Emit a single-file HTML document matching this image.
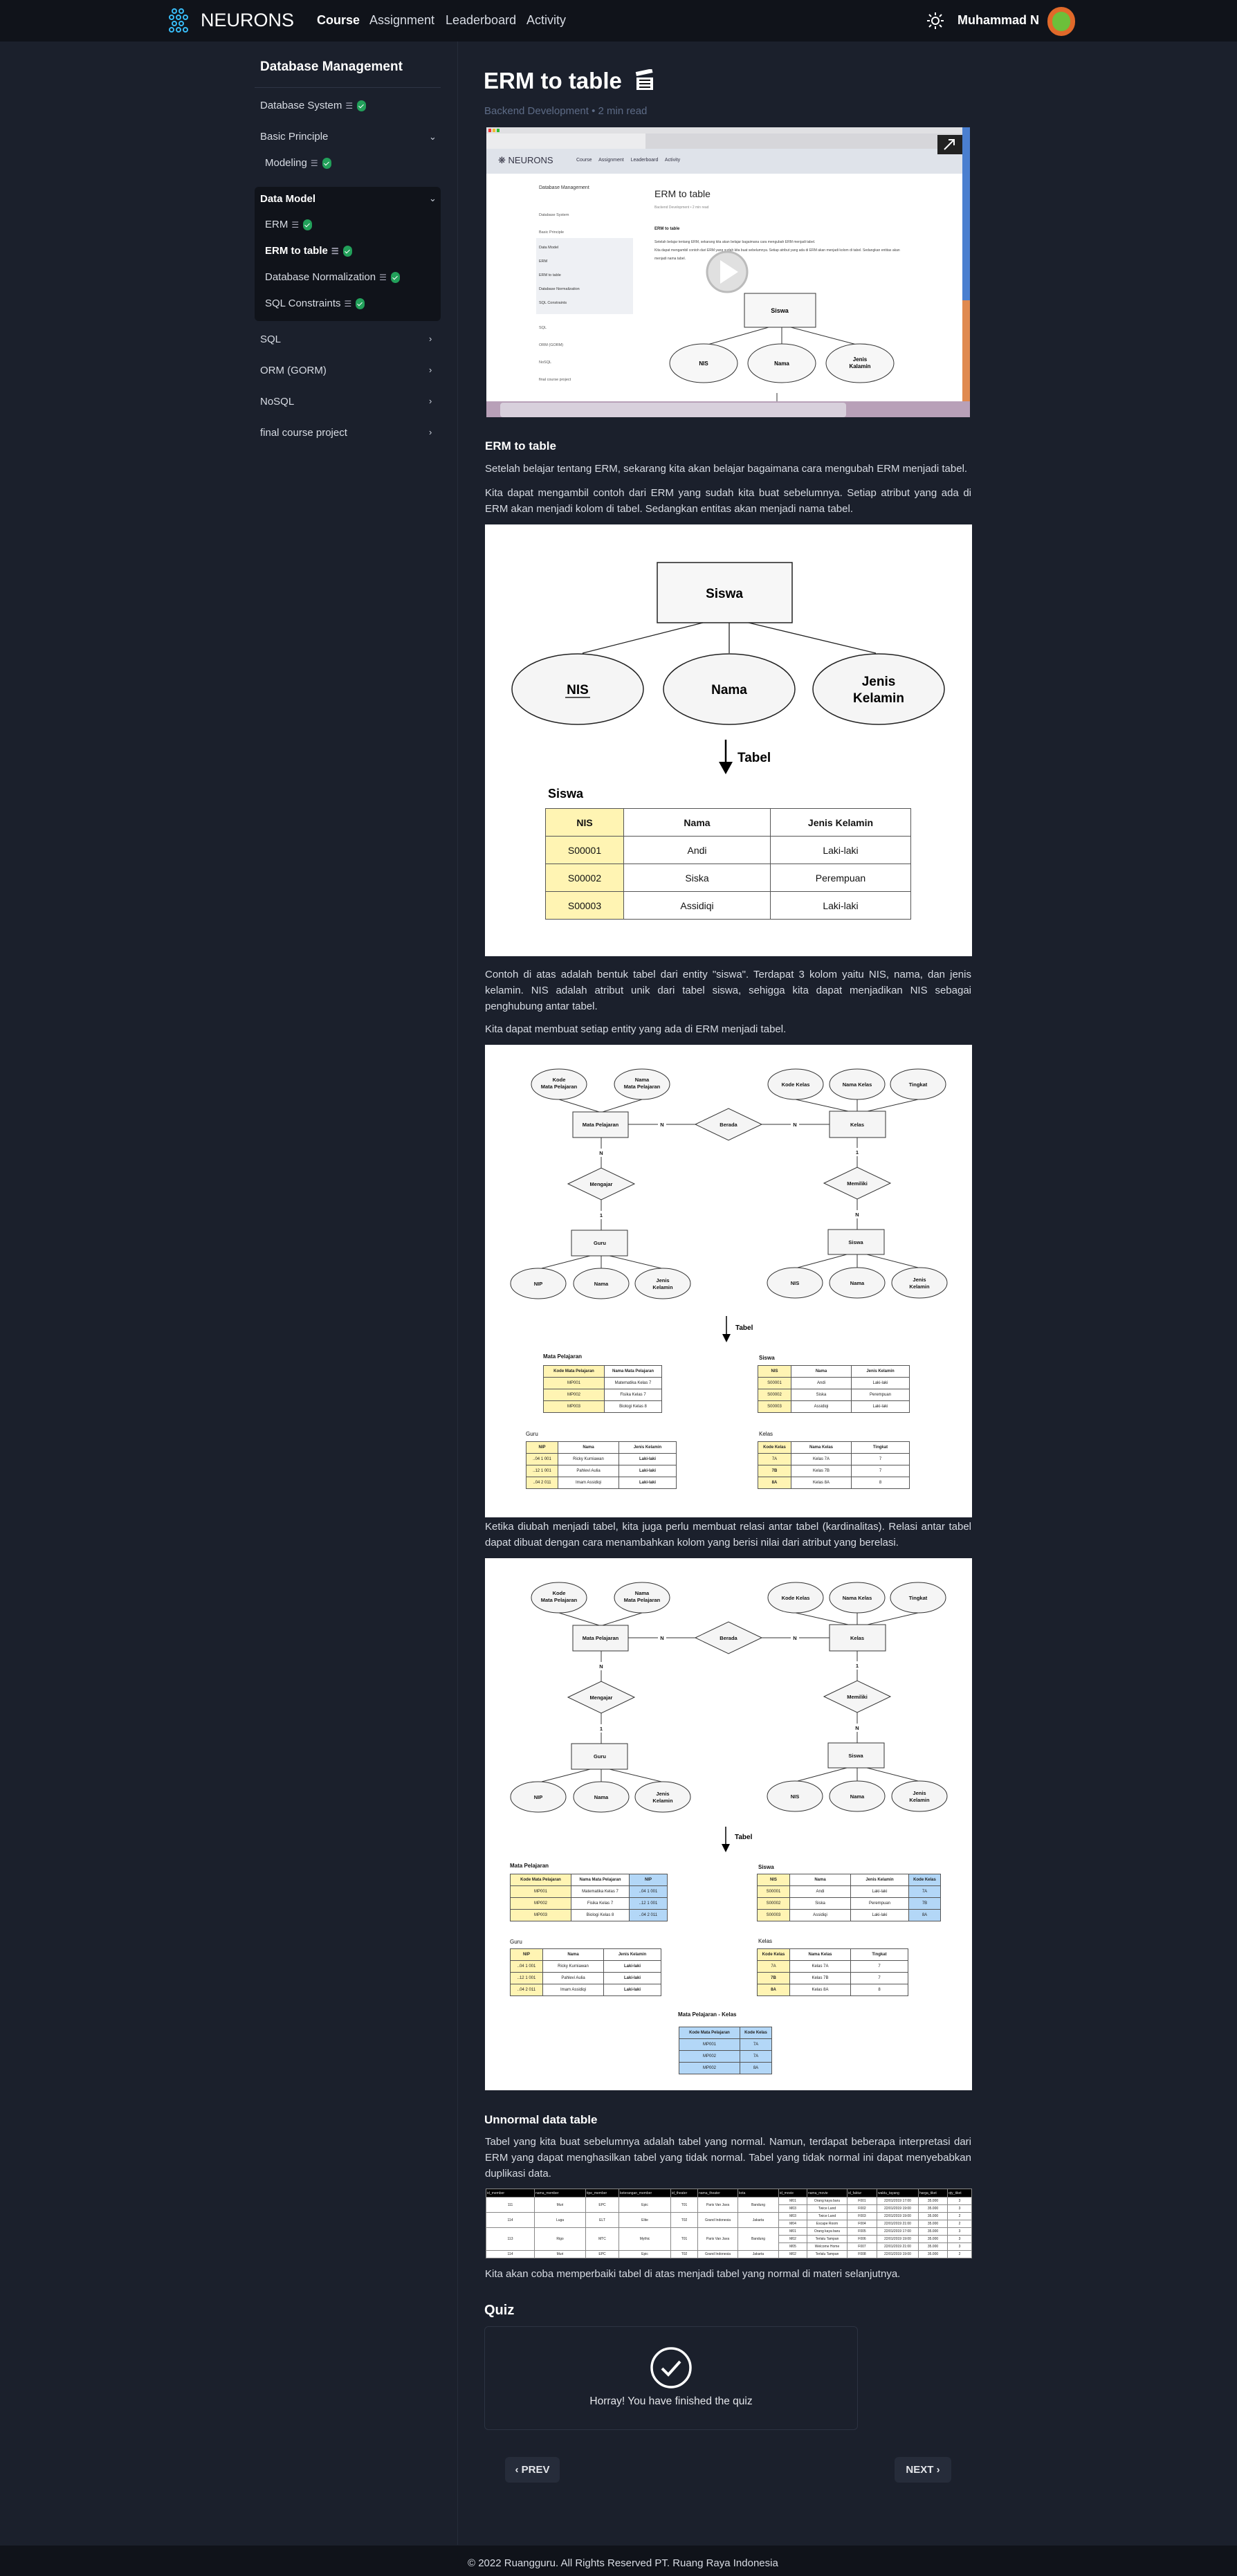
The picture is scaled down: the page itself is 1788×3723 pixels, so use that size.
<!DOCTYPE html>
<html><head><meta charset="utf-8">
<style>
*{margin:0;padding:0;box-sizing:border-box}
body{width:1788px;height:3723px;overflow:hidden;background:#1b202c;font-family:"Liberation Sans",sans-serif;color:#d8dce4;position:relative}
.a{position:absolute}
.nav{left:0;top:0;width:1788px;height:60px;background:#10131a}
.side{font-size:15px;color:#d8dce4}
.chev{position:absolute;left:620px;font-size:13px;color:#cbd1dc}
.ck{display:inline-block;width:13px;height:16px;border-radius:7px;background:#22a05a;vertical-align:middle;margin-left:6px;position:relative}
.ck:after{content:"";position:absolute;left:4px;top:4px;width:3px;height:6px;border:solid #fff;border-width:0 1.5px 1.5px 0;transform:rotate(45deg)}
.ic{display:inline-block;font-size:12px;color:#aab;margin-left:5px;vertical-align:middle}
.p{left:701px;width:703px;font-size:15px;line-height:23px;color:#d8dce4;text-align:justify}
.box{background:#fff;left:701px;width:704px}
.t{position:absolute;border-collapse:collapse;font-size:6px;color:#222;text-align:center;background:#fff}
.t td{border:1px solid #555;height:17px;padding:0}
.t tr:first-child td{font-weight:bold}
.y{background:#fff4b3}.b{background:#b3d7f7}
.tt{position:absolute;font-size:8px;font-weight:bold;color:#111}
.u{position:absolute;border-collapse:collapse;font-size:5px;color:#222;background:#fff;table-layout:fixed}
.u td{border:1px solid #888;padding:0 1px;height:11px;text-align:center;white-space:nowrap;overflow:hidden}
.u tr.h td{background:#000;color:#ddd;height:12px;text-align:left}
</style></head><body>

<!-- NAV -->
<div class="a nav"></div>
<svg class="a" style="left:240px;top:10px" width="36" height="40" viewBox="0 0 36 40"><g fill="none" stroke="#38bdf8" stroke-width="2"><circle cx="12" cy="6" r="3"/><circle cx="22" cy="6" r="3"/><circle cx="8" cy="15" r="3"/><circle cx="18" cy="15" r="3"/><circle cx="28" cy="15" r="3"/><circle cx="12" cy="24" r="3"/><circle cx="22" cy="24" r="3"/><circle cx="8" cy="33" r="3"/><circle cx="18" cy="33" r="3"/><circle cx="28" cy="33" r="3"/></g></svg>
<div class="a" style="left:290px;top:14px;font-size:27px;color:#fff">NEURONS</div>
<div class="a" style="left:458px;top:19px;font-size:18px;color:#fff;font-weight:bold">Course</div>
<div class="a" style="left:534px;top:19px;font-size:18px;color:#d8dce4">Assignment</div>
<div class="a" style="left:644px;top:19px;font-size:18px;color:#d8dce4">Leaderboard</div>
<div class="a" style="left:761px;top:19px;font-size:18px;color:#d8dce4">Activity</div>
<svg class="a" style="left:1340px;top:18px" width="24" height="24" viewBox="0 0 24 24"><circle cx="12" cy="12" r="5" fill="none" stroke="#fff" stroke-width="2"/><g stroke="#fff" stroke-width="2"><line x1="12" y1="0" x2="12" y2="4"/><line x1="12" y1="20" x2="12" y2="24"/><line x1="0" y1="12" x2="4" y2="12"/><line x1="20" y1="12" x2="24" y2="12"/><line x1="3" y1="3" x2="6" y2="6"/><line x1="18" y1="18" x2="21" y2="21"/><line x1="3" y1="21" x2="6" y2="18"/><line x1="18" y1="6" x2="21" y2="3"/></g></svg>
<div class="a" style="left:1384px;top:19px;font-size:18px;color:#fff;font-weight:bold">Muhammad N</div>
<div class="a" style="left:1514px;top:10px;width:40px;height:42px;border-radius:20px;background:#e0692a"></div>
<div class="a" style="left:1521px;top:17px;width:26px;height:28px;border-radius:13px;background:#6cbf3a"></div>

<!-- SIDEBAR -->
<div class="a" style="left:661px;top:60px;width:1px;height:3618px;background:#262c3a"></div>
<div class="a" style="left:376px;top:86px;font-size:19px;font-weight:bold;color:#fff">Database Management</div>
<div class="a" style="left:368px;top:126px;width:269px;height:1px;background:#2e3545"></div>
<div class="a side" style="left:376px;top:144px">Database System<span class="ic">☰</span><span class="ck"></span></div>
<div class="a side" style="left:376px;top:189px">Basic Principle</div><div class="chev" style="top:190px">⌄</div>
<div class="a side" style="left:383px;top:227px">Modeling<span class="ic">☰</span><span class="ck"></span></div>
<div class="a" style="left:368px;top:270px;width:269px;height:194px;background:#10131a;border-radius:6px"></div>
<div class="a side" style="left:376px;top:279px;font-weight:bold;color:#fff">Data Model</div><div class="chev" style="top:279px">⌄</div>
<div class="a side" style="left:383px;top:316px">ERM<span class="ic">☰</span><span class="ck"></span></div>
<div class="a side" style="left:383px;top:354px;font-weight:bold;color:#fff">ERM to table<span class="ic">☰</span><span class="ck"></span></div>
<div class="a side" style="left:383px;top:392px">Database Normalization<span class="ic">☰</span><span class="ck"></span></div>
<div class="a side" style="left:383px;top:430px">SQL Constraints<span class="ic">☰</span><span class="ck"></span></div>
<div class="a side" style="left:376px;top:482px">SQL</div><div class="chev" style="top:482px">›</div>
<div class="a side" style="left:376px;top:527px">ORM (GORM)</div><div class="chev" style="top:527px">›</div>
<div class="a side" style="left:376px;top:572px">NoSQL</div><div class="chev" style="top:572px">›</div>
<div class="a side" style="left:376px;top:617px">final course project</div><div class="chev" style="top:617px">›</div>

<!-- CONTENT -->
<div class="a" style="left:699px;top:98px;font-size:33px;font-weight:bold;color:#fff">ERM to table</div>
<svg class="a" style="left:918px;top:100px" width="28" height="32" viewBox="0 0 28 32"><rect x="2" y="12" width="24" height="18" fill="#fff"/><rect x="2" y="4" width="24" height="6" fill="#fff" transform="rotate(-12 2 10)"/><g stroke="#111" stroke-width="2"><line x1="6" y1="16" x2="22" y2="16"/><line x1="6" y1="21" x2="22" y2="21"/><line x1="6" y1="26" x2="22" y2="26"/></g></svg>
<div class="a" style="left:700px;top:152px;font-size:15px;color:#5d6b86">Backend Development &#8226; 2 min read</div>

<!-- video screenshot -->
<div class="a" style="left:703px;top:184px;width:699px;height:419px;background:#e9e9ec;overflow:hidden">
 <div class="a" style="left:0;top:0;width:699px;height:9px;background:#e0e0e3"></div>
 <div class="a" style="left:3px;top:2px;width:4px;height:5px;background:#e33"></div><div class="a" style="left:9px;top:2px;width:4px;height:5px;background:#eb3"></div><div class="a" style="left:15px;top:2px;width:4px;height:5px;background:#3b3"></div>
 <div class="a" style="left:0;top:9px;width:699px;height:22px;background:#d6d6da"></div>
 <div class="a" style="left:0;top:9px;width:230px;height:22px;background:#ececee"></div>
 <div class="a" style="left:0;top:31px;width:688px;height:36px;background:#dfe3ea"></div>
 <div class="a" style="left:17px;top:40px;font-size:13px;color:#334">❋ NEURONS</div>
 <div class="a" style="left:130px;top:44px;font-size:7px;color:#334;word-spacing:8px">Course Assignment Leaderboard Activity</div>
 <div class="a" style="left:0;top:67px;width:688px;height:329px;background:#fff"></div>
 <div class="a" style="left:76px;top:84px;font-size:7px;color:#333">Database Management</div>
 <div class="a" style="left:76px;top:115px;font-size:5.5px;color:#555;line-height:25px">Database System<br>Basic Principle</div>
 <div class="a" style="left:72px;top:160px;width:140px;height:110px;background:#eef0f4"></div>
 <div class="a" style="left:76px;top:164px;font-size:5.5px;color:#333;line-height:20px">Data Model<br>ERM<br>ERM to table<br>Database Normalization<br>SQL Constraints</div>
 <div class="a" style="left:76px;top:278px;font-size:5.5px;color:#555;line-height:25px">SQL<br>ORM (GORM)<br>NoSQL<br>final course project</div>
 <div class="a" style="left:243px;top:88px;font-size:14px;color:#222">ERM to table</div>
 <div class="a" style="left:243px;top:113px;font-size:5px;color:#888">Backend Development • 2 min read</div>
 <div class="a" style="left:243px;top:144px;font-size:6px;color:#222;font-weight:bold">ERM to table</div>
 <div class="a" style="left:243px;top:160px;font-size:5px;color:#444;width:370px;line-height:12px">Setelah belajar tentang ERM, sekarang kita akan belajar bagaimana cara mengubah ERM menjadi tabel.<br>Kita dapat mengambil contoh dari ERM yang sudah kita buat sebelumnya. Setiap atribut yang ada di ERM akan menjadi kolom di tabel. Sedangkan entitas akan menjadi nama tabel.</div>
 <svg class="a" style="left:0;top:0" width="699" height="419">
  <circle cx="348" cy="209" r="29" fill="#ccc" fill-opacity=".6" stroke="#bbb" stroke-width="3"/><polygon points="338,192 338,226 364,209" fill="#fff"/>
  <rect x="373" y="240" width="103" height="49" fill="#f7f7f7" stroke="#333"/><text x="424" y="268" font-size="9" font-weight="bold" text-anchor="middle" font-family="Liberation Sans">Siswa</text>
  <g stroke="#333" fill="none"><line x1="408" y1="289" x2="320" y2="314"/><line x1="427" y1="289" x2="427" y2="313"/><line x1="440" y1="289" x2="535" y2="314"/></g>
  <g fill="#f7f7f7" stroke="#333"><ellipse cx="314" cy="341" rx="49" ry="28"/><ellipse cx="427" cy="341" rx="49" ry="28"/><ellipse cx="540" cy="341" rx="49" ry="28"/></g>
  <g font-family="Liberation Sans" font-size="8" font-weight="bold" text-anchor="middle"><text x="314" y="344">NIS</text><text x="427" y="344">Nama</text><text x="540" y="338">Jenis</text><text x="540" y="348">Kalamin</text></g>
  <line x1="420" y1="384" x2="420" y2="396" stroke="#333"/>
  <rect x="0" y="396" width="699" height="23" fill="#b8a0b8"/>
  <rect x="20" y="398" width="500" height="21" rx="4" fill="#d8d0dc"/>
  <rect x="688" y="0" width="11" height="396" fill="#4a7fd0"/><rect x="688" y="250" width="11" height="146" fill="#e08a50"/>
  <rect x="652" y="11" width="36" height="28" fill="#222"/><path d="M662 32 L676 18 M668 18 L676 18 L676 26" stroke="#fff" stroke-width="2" fill="none"/>
 </svg>
</div>

<div class="a" style="left:701px;top:635px;font-size:17px;font-weight:bold;color:#fff">ERM to table</div>
<div class="a p" style="top:666px">Setelah belajar tentang ERM, sekarang kita akan belajar bagaimana cara mengubah ERM menjadi tabel.</div>
<div class="a p" style="top:701px">Kita dapat mengambil contoh dari ERM yang sudah kita buat sebelumnya. Setiap atribut yang ada di ERM akan menjadi kolom di tabel. Sedangkan entitas akan menjadi nama tabel.</div>

<!-- Diagram 1 -->
<div class="a box" style="top:758px;height:624px">
 <svg class="a" style="left:0;top:0" width="704" height="624" font-family="Liberation Sans">
  <rect x="249" y="55" width="195" height="87" fill="#f7f7f7" stroke="#222" stroke-width="1.5"/>
  <text x="346" y="106" font-size="19" font-weight="bold" text-anchor="middle">Siswa</text>
  <g stroke="#222" stroke-width="1.3"><line x1="315" y1="142" x2="141" y2="186"/><line x1="353" y1="142" x2="353" y2="186"/><line x1="381" y1="142" x2="565" y2="186"/></g>
  <g fill="#f5f5f5" stroke="#222" stroke-width="1.5"><ellipse cx="134" cy="238" rx="95" ry="51"/><ellipse cx="353" cy="238" rx="95" ry="51"/><ellipse cx="569" cy="238" rx="95" ry="51"/></g>
  <g font-size="19" font-weight="bold" text-anchor="middle"><text x="134" y="245">NIS</text><text x="353" y="245">Nama</text><text x="569" y="233">Jenis</text><text x="569" y="257">Kelamin</text></g>
  <line x1="116" y1="250" x2="152" y2="250" stroke="#222" stroke-width="1.5"/>
  <line x1="348" y1="311" x2="348" y2="346" stroke="#000" stroke-width="2.5"/><polygon points="338,343 358,343 348,361"/>
  <text x="365" y="343" font-size="19" font-weight="bold">Tabel</text>
  <text x="91" y="395" font-size="18" font-weight="bold">Siswa</text>
 </svg>
 <table class="t" style="left:87px;top:410px;width:529px;font-size:14px;color:#111">
  <tr><td class="y" style="width:113px;height:40px">NIS</td><td style="width:212px">Nama</td><td>Jenis Kelamin</td></tr>
  <tr style="font-weight:normal"><td class="y" style="height:40px;font-weight:normal">S00001</td><td>Andi</td><td>Laki-laki</td></tr>
  <tr><td class="y" style="height:40px">S00002</td><td>Siska</td><td>Perempuan</td></tr>
  <tr><td class="y" style="height:40px">S00003</td><td>Assidiqi</td><td>Laki-laki</td></tr>
 </table>
</div>

<div class="a p" style="top:1397px">Contoh di atas adalah bentuk tabel dari entity "siswa". Terdapat 3 kolom yaitu NIS, nama, dan jenis kelamin. NIS adalah atribut unik dari tabel siswa, sehigga kita dapat menjadikan NIS sebagai penghubung antar tabel.</div>
<div class="a p" style="top:1476px">Kita dapat membuat setiap entity yang ada di ERM menjadi tabel.</div>

<!-- Diagram 2 -->
<div class="a box" style="top:1510px;height:683px">
 <svg class="a" style="left:0;top:0" width="704" height="450" font-family="Liberation Sans">
  <g stroke="#333" stroke-width="1">
   <line x1="107" y1="79" x2="165" y2="97"/><line x1="227" y1="79" x2="170" y2="97"/>
   <line x1="449" y1="79" x2="525" y2="96"/><line x1="538" y1="79" x2="538" y2="96"/><line x1="626" y1="79" x2="553" y2="96"/>
   <line x1="207" y1="115" x2="250" y2="115"/><line x1="262" y1="115" x2="304" y2="115"/><line x1="400" y1="115" x2="442" y2="115"/><line x1="454" y1="115" x2="498" y2="115"/>
   <line x1="168" y1="134" x2="168" y2="150"/><line x1="168" y1="162" x2="168" y2="178"/><line x1="168" y1="224" x2="168" y2="240"/><line x1="168" y1="252" x2="168" y2="268"/>
   <line x1="538" y1="134" x2="538" y2="149"/><line x1="538" y1="161" x2="538" y2="177"/><line x1="538" y1="223" x2="538" y2="239"/><line x1="538" y1="251" x2="538" y2="267"/>
   <line x1="152" y1="305" x2="82" y2="323"/><line x1="168" y1="305" x2="168" y2="323"/><line x1="180" y1="305" x2="255" y2="323"/>
   <line x1="523" y1="303" x2="452" y2="322"/><line x1="538" y1="303" x2="538" y2="322"/><line x1="552" y1="303" x2="626" y2="322"/>
  </g>
  <g fill="#f5f5f5" stroke="#333">
   <ellipse cx="107" cy="57" rx="40" ry="22"/><ellipse cx="227" cy="57" rx="40" ry="22"/><ellipse cx="449" cy="57" rx="40" ry="22"/><ellipse cx="538" cy="57" rx="40" ry="22"/><ellipse cx="626" cy="57" rx="40" ry="22"/>
   <ellipse cx="77" cy="345" rx="40" ry="22"/><ellipse cx="168" cy="345" rx="40" ry="22"/><ellipse cx="257" cy="345" rx="40" ry="22"/>
   <ellipse cx="448" cy="344" rx="40" ry="22"/><ellipse cx="538" cy="344" rx="40" ry="22"/><ellipse cx="628" cy="344" rx="40" ry="22"/>
   <rect x="127" y="97" width="80" height="37"/><rect x="498" y="96" width="81" height="38"/><rect x="125" y="268" width="81" height="37"/><rect x="496" y="267" width="81" height="36"/>
   <polygon points="304,115 352,92 400,115 352,138"/><polygon points="120,201 168,178 216,201 168,224"/><polygon points="490,200 538,177 586,200 538,223"/>
  </g>
  <g font-size="7.5" font-weight="bold" text-anchor="middle" fill="#111">
   <text x="107" y="53">Kode</text><text x="107" y="63">Mata Pelajaran</text><text x="227" y="53">Nama</text><text x="227" y="63">Mata Pelajaran</text>
   <text x="449" y="60">Kode Kelas</text><text x="538" y="60">Nama Kelas</text><text x="626" y="60">Tingkat</text>
   <text x="167" y="118">Mata Pelajaran</text><text x="538" y="118">Kelas</text><text x="352" y="118">Berada</text>
   <text x="168" y="204">Mengajar</text><text x="538" y="203">Memiliki</text><text x="166" y="289">Guru</text><text x="536" y="288">Siswa</text>
   <text x="256" y="118">N</text><text x="448" y="118">N</text><text x="168" y="159">N</text><text x="168" y="249">1</text><text x="538" y="158">1</text><text x="538" y="248">N</text>
   <text x="77" y="348">NIP</text><text x="168" y="348">Nama</text><text x="257" y="343">Jenis</text><text x="257" y="353">Kelamin</text>
   <text x="448" y="347">NIS</text><text x="538" y="347">Nama</text><text x="628" y="342">Jenis</text><text x="628" y="352">Kelamin</text>
  </g>
  <line x1="349" y1="392" x2="349" y2="420" stroke="#000" stroke-width="1.5"/><polygon points="343,418 355,418 349,430"/>
  <text x="362" y="412" font-size="10" font-weight="bold">Tabel</text>
 </svg>
 <div class="tt" style="left:84px;top:446px">Mata Pelajaran</div>
 <table class="t" style="left:84px;top:463px;width:172px"><tr><td class="y" style="width:88px">Kode Mata Pelajaran</td><td>Nama Mata Pelajaran</td></tr><tr><td class="y">MP001</td><td>Matematika Kelas 7</td></tr><tr><td class="y">MP002</td><td>Fisika Kelas 7</td></tr><tr><td class="y">MP003</td><td>Biologi Kelas 8</td></tr></table>
 <div class="tt" style="left:396px;top:448px">Siswa</div>
 <table class="t" style="left:394px;top:463px;width:220px"><tr><td class="y" style="width:48px">NIS</td><td style="width:87px">Nama</td><td>Jenis Kelamin</td></tr><tr><td class="y">S00001</td><td>Andi</td><td>Laki-laki</td></tr><tr><td class="y">S00002</td><td>Siska</td><td>Perempuan</td></tr><tr><td class="y">S00003</td><td>Assidiqi</td><td>Laki-laki</td></tr></table>
 <div class="tt" style="left:59px;top:558px;font-weight:normal">Guru</div>
 <table class="t" style="left:59px;top:573px;width:218px"><tr><td class="y" style="width:46px">NIP</td><td style="width:88px">Nama</td><td>Jenis Kelamin</td></tr><tr><td class="y">..04 1 001</td><td>Ricky Kurniawan</td><td><b>Laki-laki</b></td></tr><tr><td class="y">..12 1 001</td><td>Pahlevi Aulia</td><td><b>Laki-laki</b></td></tr><tr><td class="y">..04 2 011</td><td>Imam Assidiqi</td><td><b>Laki-laki</b></td></tr></table>
 <div class="tt" style="left:396px;top:558px;font-weight:normal">Kelas</div>
 <table class="t" style="left:394px;top:573px;width:220px"><tr><td class="y" style="width:48px">Kode Kelas</td><td style="width:87px">Nama Kelas</td><td>Tingkat</td></tr><tr><td class="y">7A</td><td>Kelas 7A</td><td>7</td></tr><tr><td class="y"><b>7B</b></td><td>Kelas 7B</td><td>7</td></tr><tr><td class="y"><b>8A</b></td><td>Kelas 8A</td><td>8</td></tr></table>
</div>

<div class="a p" style="top:2195px">Ketika diubah menjadi tabel, kita juga perlu membuat relasi antar tabel (kardinalitas). Relasi antar tabel dapat dibuat dengan cara menambahkan kolom yang berisi nilai dari atribut yang berelasi.</div>

<!-- Diagram 3 -->
<div class="a box" style="top:2252px;height:769px">
 <svg class="a" style="left:0;top:0" width="704" height="450" font-family="Liberation Sans">
  <g stroke="#333" stroke-width="1">
   <line x1="107" y1="79" x2="165" y2="97"/><line x1="227" y1="79" x2="170" y2="97"/>
   <line x1="449" y1="79" x2="525" y2="96"/><line x1="538" y1="79" x2="538" y2="96"/><line x1="626" y1="79" x2="553" y2="96"/>
   <line x1="207" y1="115" x2="250" y2="115"/><line x1="262" y1="115" x2="304" y2="115"/><line x1="400" y1="115" x2="442" y2="115"/><line x1="454" y1="115" x2="498" y2="115"/>
   <line x1="168" y1="134" x2="168" y2="150"/><line x1="168" y1="162" x2="168" y2="178"/><line x1="168" y1="224" x2="168" y2="240"/><line x1="168" y1="252" x2="168" y2="268"/>
   <line x1="538" y1="134" x2="538" y2="149"/><line x1="538" y1="161" x2="538" y2="177"/><line x1="538" y1="223" x2="538" y2="239"/><line x1="538" y1="251" x2="538" y2="267"/>
   <line x1="152" y1="305" x2="82" y2="323"/><line x1="168" y1="305" x2="168" y2="323"/><line x1="180" y1="305" x2="255" y2="323"/>
   <line x1="523" y1="303" x2="452" y2="322"/><line x1="538" y1="303" x2="538" y2="322"/><line x1="552" y1="303" x2="626" y2="322"/>
  </g>
  <g fill="#f5f5f5" stroke="#333">
   <ellipse cx="107" cy="57" rx="40" ry="22"/><ellipse cx="227" cy="57" rx="40" ry="22"/><ellipse cx="449" cy="57" rx="40" ry="22"/><ellipse cx="538" cy="57" rx="40" ry="22"/><ellipse cx="626" cy="57" rx="40" ry="22"/>
   <ellipse cx="77" cy="345" rx="40" ry="22"/><ellipse cx="168" cy="345" rx="40" ry="22"/><ellipse cx="257" cy="345" rx="40" ry="22"/>
   <ellipse cx="448" cy="344" rx="40" ry="22"/><ellipse cx="538" cy="344" rx="40" ry="22"/><ellipse cx="628" cy="344" rx="40" ry="22"/>
   <rect x="127" y="97" width="80" height="37"/><rect x="498" y="96" width="81" height="38"/><rect x="125" y="268" width="81" height="37"/><rect x="496" y="267" width="81" height="36"/>
   <polygon points="304,115 352,92 400,115 352,138"/><polygon points="120,201 168,178 216,201 168,224"/><polygon points="490,200 538,177 586,200 538,223"/>
  </g>
  <g font-size="7.5" font-weight="bold" text-anchor="middle" fill="#111">
   <text x="107" y="53">Kode</text><text x="107" y="63">Mata Pelajaran</text><text x="227" y="53">Nama</text><text x="227" y="63">Mata Pelajaran</text>
   <text x="449" y="60">Kode Kelas</text><text x="538" y="60">Nama Kelas</text><text x="626" y="60">Tingkat</text>
   <text x="167" y="118">Mata Pelajaran</text><text x="538" y="118">Kelas</text><text x="352" y="118">Berada</text>
   <text x="168" y="204">Mengajar</text><text x="538" y="203">Memiliki</text><text x="166" y="289">Guru</text><text x="536" y="288">Siswa</text>
   <text x="256" y="118">N</text><text x="448" y="118">N</text><text x="168" y="159">N</text><text x="168" y="249">1</text><text x="538" y="158">1</text><text x="538" y="248">N</text>
   <text x="77" y="348">NIP</text><text x="168" y="348">Nama</text><text x="257" y="343">Jenis</text><text x="257" y="353">Kelamin</text>
   <text x="448" y="347">NIS</text><text x="538" y="347">Nama</text><text x="628" y="342">Jenis</text><text x="628" y="352">Kelamin</text>
  </g>
  <line x1="348" y1="388" x2="348" y2="415" stroke="#000" stroke-width="1.5"/><polygon points="342,413 354,413 348,425"/>
  <text x="361" y="406" font-size="10" font-weight="bold">Tabel</text>
 </svg>
 <div class="tt" style="left:36px;top:440px">Mata Pelajaran</div>
 <table class="t" style="left:36px;top:456px;width:228px"><tr><td class="y" style="width:88px">Kode Mata Pelajaran</td><td style="width:84px">Nama Mata Pelajaran</td><td class="b">NIP</td></tr><tr><td class="y">MP001</td><td>Matematika Kelas 7</td><td class="b">..04 1 001</td></tr><tr><td class="y">MP002</td><td>Fisika Kelas 7</td><td class="b">..12 1 001</td></tr><tr><td class="y">MP003</td><td>Biologi Kelas 8</td><td class="b">..04 2 011</td></tr></table>
 <div class="tt" style="left:395px;top:442px">Siswa</div>
 <table class="t" style="left:393px;top:456px;width:266px"><tr><td class="y" style="width:47px">NIS</td><td style="width:88px">Nama</td><td style="width:84px">Jenis Kelamin</td><td class="b">Kode Kelas</td></tr><tr><td class="y">S00001</td><td>Andi</td><td>Laki-laki</td><td class="b">7A</td></tr><tr><td class="y">S00002</td><td>Siska</td><td>Perempuan</td><td class="b">7B</td></tr><tr><td class="y">S00003</td><td>Assidiqi</td><td>Laki-laki</td><td class="b">8A</td></tr></table>
 <div class="tt" style="left:36px;top:550px;font-weight:normal">Guru</div>
 <table class="t" style="left:36px;top:564px;width:219px"><tr><td class="y" style="width:47px">NIP</td><td style="width:88px">Nama</td><td>Jenis Kelamin</td></tr><tr><td class="y">..04 1 001</td><td>Ricky Kurniawan</td><td><b>Laki-laki</b></td></tr><tr><td class="y">..12 1 001</td><td>Pahlevi Aulia</td><td><b>Laki-laki</b></td></tr><tr><td class="y">..04 2 011</td><td>Imam Assidiqi</td><td><b>Laki-laki</b></td></tr></table>
 <div class="tt" style="left:395px;top:549px;font-weight:normal">Kelas</div>
 <table class="t" style="left:393px;top:564px;width:219px"><tr><td class="y" style="width:47px">Kode Kelas</td><td style="width:88px">Nama Kelas</td><td>Tingkat</td></tr><tr><td class="y">7A</td><td>Kelas 7A</td><td>7</td></tr><tr><td class="y"><b>7B</b></td><td>Kelas 7B</td><td>7</td></tr><tr><td class="y"><b>8A</b></td><td>Kelas 8A</td><td>8</td></tr></table>
 <div class="tt" style="left:279px;top:655px">Mata Pelajaran - Kelas</div>
 <table class="t" style="left:280px;top:677px;width:135px"><tr><td class="b" style="width:88px">Kode Mata Pelajaran</td><td class="b">Kode Kelas</td></tr><tr><td class="b">MP001</td><td class="b">7A</td></tr><tr><td class="b">MP002</td><td class="b">7A</td></tr><tr><td class="b">MP002</td><td class="b">8A</td></tr></table>
</div>

<!-- Unnormal -->
<div class="a" style="left:700px;top:3054px;font-size:17px;font-weight:bold;color:#fff">Unnormal data table</div>
<div class="a p" style="top:3084px">Tabel yang kita buat sebelumnya adalah tabel yang normal. Namun, terdapat beberapa interpretasi dari ERM yang dapat menghasilkan tabel yang tidak normal. Tabel yang tidak normal ini dapat menyebabkan duplikasi data.</div>
<table class="u" style="left:702px;top:3163px;width:702px">
 <colgroup><col style="width:70px"><col style="width:74px"><col style="width:48px"><col style="width:75px"><col style="width:39px"><col style="width:58px"><col style="width:59px"><col style="width:41px"><col style="width:58px"><col style="width:43px"><col style="width:60px"><col style="width:42px"><col style="width:35px"></colgroup>
 <tr class="h"><td>id_member</td><td>nama_member</td><td>tipe_member</td><td>keterangan_member</td><td>id_theater</td><td>nama_theater</td><td>kota</td><td>id_movie</td><td>nama_movie</td><td>id_faktur</td><td>waktu_tayang</td><td>harga_tiket</td><td>qty_tiket</td></tr>
 <tr><td rowspan="2">111</td><td rowspan="2">Muri</td><td rowspan="2">EPC</td><td rowspan="2">Epic</td><td rowspan="2">T01</td><td rowspan="2">Paris Van Java</td><td rowspan="2">Bandung</td><td>M01</td><td>Orang kaya baru</td><td>F001</td><td>22/01/2019 17:00</td><td>35.000</td><td>3</td></tr>
 <tr><td>M03</td><td>Twice Land</td><td>F002</td><td>22/01/2019 19:00</td><td>35.000</td><td>3</td></tr>
 <tr><td rowspan="2">114</td><td rowspan="2">Luga</td><td rowspan="2">ELT</td><td rowspan="2">Elite</td><td rowspan="2">T02</td><td rowspan="2">Grand Indonesia</td><td rowspan="2">Jakarta</td><td>M03</td><td>Twice Land</td><td>F003</td><td>22/01/2019 19:00</td><td>35.000</td><td>2</td></tr>
 <tr><td>M04</td><td>Escape Room</td><td>F004</td><td>22/01/2019 21:00</td><td>35.000</td><td>2</td></tr>
 <tr><td rowspan="3">113</td><td rowspan="3">Rigo</td><td rowspan="3">MTC</td><td rowspan="3">Mythic</td><td rowspan="3">T01</td><td rowspan="3">Paris Van Java</td><td rowspan="3">Bandung</td><td>M01</td><td>Orang kaya baru</td><td>F005</td><td>22/01/2019 17:00</td><td>35.000</td><td>3</td></tr>
 <tr><td>M02</td><td>Terlalu Tampan</td><td>F006</td><td>22/01/2019 19:00</td><td>35.000</td><td>3</td></tr>
 <tr><td>M05</td><td>Welcome Home</td><td>F007</td><td>22/01/2019 21:00</td><td>35.000</td><td>3</td></tr>
 <tr><td>114</td><td>Muri</td><td>EPC</td><td>Epic</td><td>T02</td><td>Grand Indonesia</td><td>Jakarta</td><td>M02</td><td>Terlalu Tampan</td><td>F008</td><td>22/01/2019 19:00</td><td>35.000</td><td>2</td></tr>
</table>
<div class="a p" style="top:3275px">Kita akan coba memperbaiki tabel di atas menjadi tabel yang normal di materi selanjutnya.</div>

<div class="a" style="left:700px;top:3328px;font-size:20px;font-weight:bold;color:#fff">Quiz</div>
<div class="a" style="left:700px;top:3362px;width:540px;height:150px;border:1px solid #2c3342;border-radius:6px"></div>
<svg class="a" style="left:939px;top:3391px" width="62" height="62" viewBox="0 0 62 62"><circle cx="31" cy="31" r="28" fill="none" stroke="#fff" stroke-width="3.5"/><path d="M18 32 L27 41 L44 22" fill="none" stroke="#fff" stroke-width="4"/></svg>
<div class="a" style="left:700px;top:3462px;width:540px;text-align:center;font-size:15.5px;color:#e5e7eb">Horray! You have finished the quiz</div>

<div class="a" style="left:730px;top:3551px;width:79px;height:37px;background:#262c3a;border-radius:6px;font-size:15px;font-weight:bold;color:#e5e7eb;text-align:center;line-height:37px">‹ PREV</div>
<div class="a" style="left:1293px;top:3551px;width:82px;height:37px;background:#262c3a;border-radius:6px;font-size:15px;font-weight:bold;color:#e5e7eb;text-align:center;line-height:37px">NEXT ›</div>

<div class="a" style="left:0;top:3679px;width:1788px;height:44px;background:#10131a"></div>
<div class="a" style="left:676px;top:3696px;font-size:15px;color:#d8dce4">© 2022 Ruangguru. All Rights Reserved PT. Ruang Raya Indonesia</div>
</body></html>
